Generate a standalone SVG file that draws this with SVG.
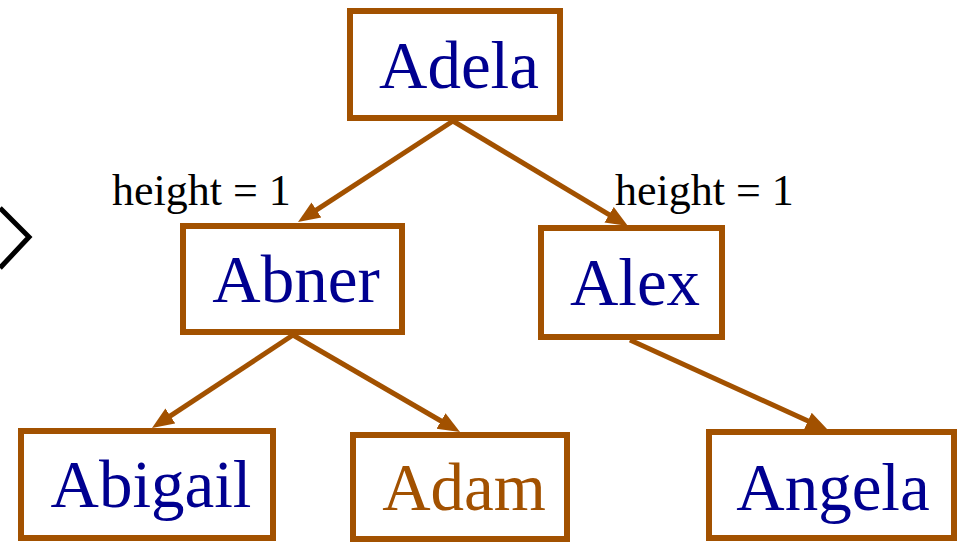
<svg xmlns="http://www.w3.org/2000/svg" width="965" height="542" viewBox="0 0 965 542">
<style>
.box{fill:#fff;stroke:#A25100;stroke-width:6}
.nm{font-family:"Liberation Serif","Times New Roman",serif;font-size:67px;fill:#000090;text-anchor:middle}
.nm.hl{fill:#A25100}
.lbl{font-family:"Liberation Serif","Times New Roman",serif;font-size:44px;fill:#000}
.edge{stroke:#A25100;stroke-width:5;fill:none;marker-end:url(#ah)}
</style>
<defs>
<marker id="ah" markerUnits="userSpaceOnUse" markerWidth="22" markerHeight="20" viewBox="0 0 22 20" refX="14" refY="10" orient="auto">
<path d="M0,1 L22,10 L0,19 z" fill="#A25100"/>
</marker>
</defs>
<rect width="965" height="542" fill="#fff"/>
<polyline points="0,208 29,237 0,268" fill="none" stroke="#000" stroke-width="5"/>
<g id="connectors">
<line class="edge" x1="453" y1="121" x2="304.7" y2="217.6"/>
<line class="edge" x1="453" y1="121" x2="621.1" y2="221.9"/>
<line class="edge" x1="293" y1="335" x2="158.7" y2="423.6"/>
<line class="edge" x1="293" y1="335" x2="453.1" y2="428"/>
<line class="edge" x1="630" y1="340" x2="820.7" y2="426.7"/>
<text class="lbl" x="112" y="205">height = 1</text>
<text class="lbl" x="615" y="205">height = 1</text>
</g>
<g id="adela"><rect class="box" x="350" y="11" width="210" height="107"/><text class="nm" x="459" y="88">Adela</text></g>
<g id="abner"><rect class="box" x="183" y="226" width="219" height="106"/><text class="nm" x="296" y="302">Abner</text></g>
<g id="alex"><rect class="box" x="541" y="228" width="181" height="109"/><text class="nm" x="635" y="305">Alex</text></g>
<g id="abigail"><rect class="box" x="21" y="431" width="252" height="107"/><text class="nm" x="151" y="507">Abigail</text></g>
<g id="adam"><rect class="box" x="353" y="435" width="214" height="104"/><text class="nm hl" x="464" y="510">Adam</text></g>
<g id="angela"><rect class="box" x="709" y="432" width="245" height="106"/><text class="nm" x="833" y="510">Angela</text></g>
</svg>
